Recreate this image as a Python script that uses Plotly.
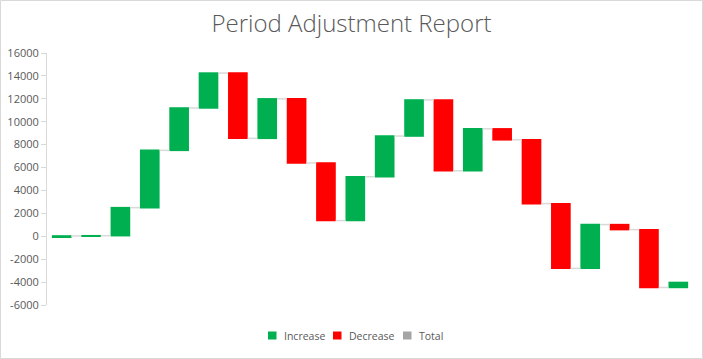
import plotly.graph_objects as go

periods = [f"P{i}" for i in range(1, 23)]
changes = [30, 20, 2450, 5000, 3700, 3050, -5700, 3450, -5600, -5030, 3830,
           3550, 3150, -6180, 3660, -960, -5570, -5650, 3820, -440, -5050, 440]
y_ticks = list(range(-6000, 16001, 2000))
y_tick_text = [str(v) for v in y_ticks]
legend_names = ["Increase", "Decrease", "Total"]

GREEN = "#00b050"
RED = "#ff0000"
GRAY = "#a5a5a5"
TEXT = "#595959"
LINE = "#d9d9d9"
legend_colors = [GREEN, RED, GRAY]

W, H = 703, 359
ML, MR, MT, MB = 47, 10, 53, 54
PW, PH = W - ML - MR, H - MT - MB


def px(x):
    return (x - ML) / PW


def py(y):
    return (H - MB - y) / PH


fig = go.Figure()
fig.add_trace(go.Waterfall(
    x=periods, y=changes, measure=["relative"] * len(changes),
    increasing=dict(marker=dict(color=GREEN, line=dict(width=0))),
    decreasing=dict(marker=dict(color=RED, line=dict(width=0))),
    totals=dict(marker=dict(color=GRAY, line=dict(width=0))),
    connector=dict(line=dict(color=LINE, width=1.5)),
    showlegend=False, hoverinfo="x+y",
))

fig.update_layout(
    template="none",
    width=W, height=H,
    margin=dict(l=ML, r=MR, t=MT, b=MB, autoexpand=False),
    paper_bgcolor="white", plot_bgcolor="white",
    waterfallgap=0.33,
    showlegend=False,
    title=dict(text="Period Adjustment Report", x=0.5, xanchor="center",
               xref="container", y=1 - 24 / H, yanchor="middle",
               font=dict(family="Open Sans", size=24, color=TEXT, weight=300)),
    font=dict(family="Open Sans", size=11, color=TEXT),
    xaxis=dict(showticklabels=False, showgrid=False, zeroline=False,
               showline=False, ticks="", automargin=False,
               range=[-0.5, len(periods) - 0.5]),
    yaxis=dict(range=[-6000, 16000], tickvals=y_ticks, ticktext=y_tick_text,
               showgrid=False, automargin=False,
               zeroline=False, showline=True, linecolor=LINE, linewidth=1,
               ticks="outside", ticklen=5, tickcolor=LINE,
               tickfont=dict(family="Open Sans", size=11, color=TEXT)),
)

# custom legend (squares + labels)
sq_x = [268, 333, 403]
for name, col, x0 in zip(legend_names, legend_colors, sq_x):
    fig.add_shape(type="rect", xref="paper", yref="paper",
                  x0=px(x0), x1=px(x0 + 8.5), y0=py(339.5), y1=py(331.5),
                  line=dict(width=0), fillcolor=col)
    fig.add_annotation(text=name, xref="paper", yref="paper",
                       x=px(x0 + 14), y=py(335.5), xanchor="left",
                       yanchor="middle", showarrow=False,
                       font=dict(family="Open Sans", size=10.5, color=TEXT))

# chart border
fig.add_shape(type="rect", xref="paper", yref="paper",
              x0=px(0.5), x1=px(W - 0.5), y0=py(H - 0.5), y1=py(0.5),
              line=dict(color=LINE, width=1), fillcolor="rgba(0,0,0,0)",
              layer="below")
fig.write_html("out.html",
               config={"displayModeBar": False},
               post_script="document.body.style.margin='0';")
